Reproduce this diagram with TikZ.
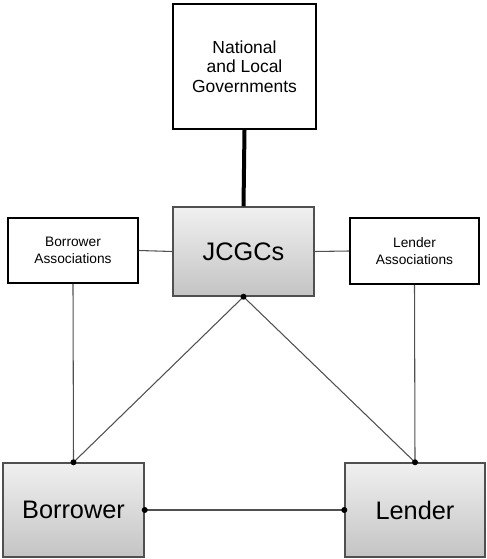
\documentclass[tikz,border=0pt]{standalone}
\usepackage{fontspec}
\setmainfont{Liberation Sans}
\definecolor{linegray}{RGB}{80,80,80}
\definecolor{shadetop}{RGB}{240,240,240}
\definecolor{shadebot}{RGB}{196,196,196}
\tikzset{
  whitebox/.style={draw=black, line width=1.5pt, fill=white, align=center, inner sep=0pt, font=\fontsize{10.3pt}{12.5pt}\selectfont},
  greybox/.style={draw=linegray, line width=1.1pt, top color=shadetop, bottom color=shadebot, align=center, inner sep=0pt, font=\fontsize{19pt}{22pt}\selectfont},
  conn/.style={draw=linegray, line width=0.8pt},
  dot/.style={circle, fill=black, inner sep=0pt, minimum size=4.5pt}
}
\begin{document}
\begin{tikzpicture}[x=0.75pt, y=-0.75pt]
\useasboundingbox (0,0) rectangle (486,559);
\node[whitebox, minimum width=107.25pt, minimum height=93.75pt, font=\fontsize{13.1pt}{14.6pt}\selectfont] (gov) at (244.5,66.5) {National\\and Local\\Governments};
\node[greybox, minimum width=105.75pt, minimum height=66.75pt] (j) at (243.5,251.5) {JCGCs};
\node[whitebox, minimum width=97.5pt, minimum height=48.75pt] (ba) at (73,250.5) {Borrower\\Associations};
\node[whitebox, minimum width=96.75pt, minimum height=49.5pt] (la) at (414.5,251) {Lender\\Associations};
\node[greybox, minimum width=105.75pt, minimum height=70.5pt] (b) at (73.5,510) {Borrower};
\node[greybox, minimum width=105pt, minimum height=70.5pt] (l) at (415,510) {Lender};
\draw[line width=3pt, black] (gov.south) -- (j.north);
\draw[conn] (ba.east) -- (j.west);
\draw[conn] (j.east) -- (la.west);
\draw[conn] (ba.south) -- (b.north);
\draw[conn] (la.south) -- (l.north);
\draw[conn] (j.south) -- (b.north);
\draw[conn] (j.south) -- (l.north);
\draw[conn] (b.east) -- (l.west);
\node[dot] at (j.south) {};
\node[dot] at (b.north) {};
\node[dot] at (l.north) {};
\node[dot] at (b.east) {};
\node[dot] at (l.west) {};
\end{tikzpicture}
\end{document}
